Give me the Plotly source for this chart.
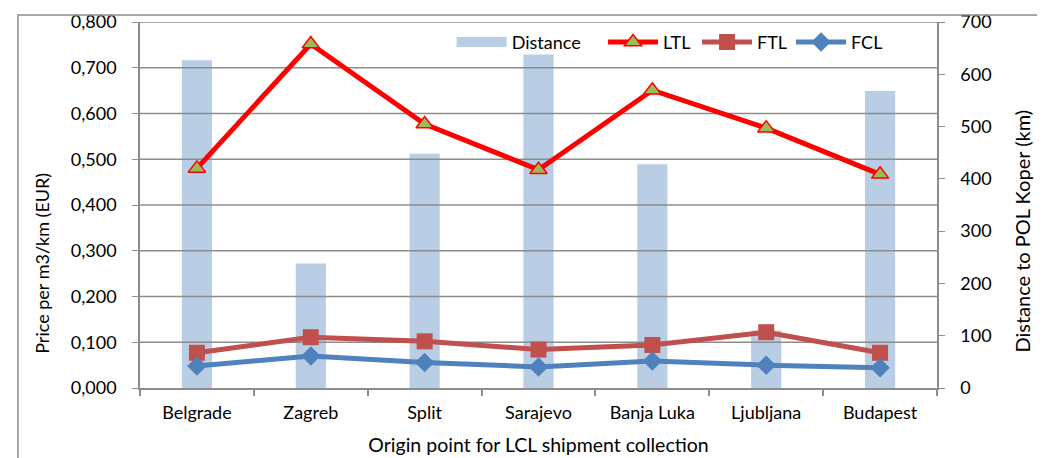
import plotly.graph_objects as go

categories = ["Belgrade", "Zagreb", "Split", "Sarajevo", "Banja Luka", "Ljubljana", "Budapest"]
distance_km = [627, 238, 448, 638, 428, 110, 568]
ltl = [0.480, 0.752, 0.577, 0.477, 0.651, 0.568, 0.467]
ftl = [0.077, 0.111, 0.102, 0.084, 0.094, 0.122, 0.077]
fcl = [0.048, 0.070, 0.056, 0.046, 0.059, 0.050, 0.044]
price_ticks = [0.0, 0.1, 0.2, 0.3, 0.4, 0.5, 0.6, 0.7, 0.8]
distance_ticks = [0, 100, 200, 300, 400, 500, 600, 700]

FONT = "Lato, 'Noto Sans', sans-serif"
GRID = "#8c8c8c"
BAR = "#B9CDE5"
idx = list(range(len(categories)))

fig = go.Figure()

# Distance bars on the primary (right-side) axis
fig.add_trace(go.Bar(
    x=idx, y=distance_km, name="Distance", width=0.265,
    marker=dict(color=BAR, line=dict(width=0)),
    yaxis="y", showlegend=False,
))
# legend swatch for Distance (wide flat rectangle like the reference)
fig.add_trace(go.Scatter(
    x=[None], y=[None], name="Distance", mode="lines",
    line=dict(color=BAR, width=10), legend="legend2", yaxis="y",
))

# Price gridlines drawn above the bars (as in the reference)
for t in price_ticks[1:]:
    fig.add_trace(go.Scatter(
        x=[-0.5, len(categories) - 0.5], y=[t, t], mode="lines",
        line=dict(color=GRID, width=1.5), hoverinfo="skip",
        showlegend=False, yaxis="y2",
    ))

fig.add_trace(go.Scatter(
    x=idx, y=ltl, name="LTL", yaxis="y2", mode="lines+markers",
    line=dict(color="#FF0000", width=5),
    marker=dict(symbol="triangle-up", size=15, color="#9BBB59",
                line=dict(color="#FF0000", width=1.5)),
))
fig.add_trace(go.Scatter(
    x=idx, y=ftl, name="FTL", yaxis="y2", mode="lines+markers",
    line=dict(color="#C0504D", width=5),
    marker=dict(symbol="square", size=16, color="#C0504D"),
))
fig.add_trace(go.Scatter(
    x=idx, y=fcl, name="FCL", yaxis="y2", mode="lines+markers",
    line=dict(color="#4F81BD", width=5),
    marker=dict(symbol="diamond", size=15, color="#4F81BD"),
))

TICKFONT = dict(family=FONT, size=18, color="#000000")

fig.update_layout(
    width=1037, height=450,
    margin=dict(l=132, r=108, t=14, b=70, autoexpand=False),
    paper_bgcolor="white", plot_bgcolor="white",
    separators=", ",
    font=dict(family=FONT, size=18, color="#000000"),
    showlegend=True,
    legend=dict(orientation="h", x=0.581, y=0.995, xanchor="left", yanchor="top",
                bgcolor="rgba(0,0,0,0)", font=dict(family=FONT, size=18),
                traceorder="normal", itemwidth=50, entrywidth=29),
    legend2=dict(orientation="h", x=0.391, y=0.995, xanchor="left", yanchor="top",
                 bgcolor="rgba(0,0,0,0)", font=dict(family=FONT, size=18),
                 itemwidth=50),
    xaxis=dict(
        range=[-0.5, len(categories) - 0.5], tickmode="array",
        tickvals=idx, ticktext=categories, ticks="", showgrid=False,
        showline=True, linecolor=GRID, linewidth=1.5, zeroline=False,
        tickfont=TICKFONT, automargin=False,
        title=dict(text="Origin point for LCL shipment collection", standoff=16,
                   font=dict(family=FONT, size=19.5, color="#000000")),
        minor=dict(ticks="outside", tick0=0.5, dtick=1, ticklen=6,
                   tickcolor=GRID, tickwidth=1.5, showgrid=False),
        ticklabelstandoff=8,
    ),
    yaxis=dict(
        side="right", range=[0, 700], tickvals=distance_ticks,
        showgrid=False, zeroline=False, showline=True, linecolor=GRID,
        linewidth=1.5, ticks="outside", ticklen=6, tickcolor=GRID,
        tickfont=TICKFONT, ticklabelstandoff=12, automargin=False,
    ),
    yaxis2=dict(
        side="left", overlaying="y", range=[0, 0.8], tickvals=price_ticks,
        tickformat=".3f", showgrid=False, zeroline=False, showline=True,
        linecolor=GRID, linewidth=1.5, ticks="outside", ticklen=6,
        tickcolor=GRID, tickfont=TICKFONT, ticklabelstandoff=12,
        automargin=False,
    ),
    annotations=[
        dict(text="Price per m3/km (EUR)", textangle=-90, showarrow=False,
             xref="paper", yref="paper", x=-0.123, y=0.342,
             xanchor="center", yanchor="middle",
             font=dict(family=FONT, size=18, color="#000000")),
        dict(text="Distance to POL Koper (km)", textangle=-90, showarrow=False,
             xref="paper", yref="paper", x=1.1066, y=0.43,
             xanchor="center", yanchor="middle",
             font=dict(family=FONT, size=20, color="#000000")),
    ],
    shapes=[dict(type="path", xref="paper", yref="paper",
                 path="M -0.1531 -0.5 L -0.1531 1.0191 L 1.2 1.0191",
                 line=dict(color="#8c8c8c", width=1.5), layer="above")],
)

fig.write_html("out.html")
